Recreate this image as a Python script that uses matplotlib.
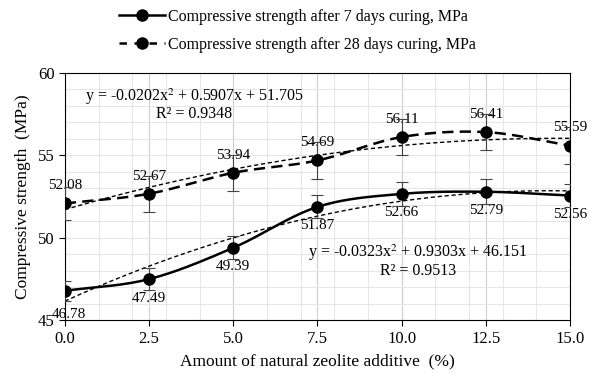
import numpy as np
import matplotlib.pyplot as plt
from matplotlib.lines import Line2D

plt.rcParams['font.family'] = ['Liberation Serif', 'DejaVu Serif']
plt.rcParams['mathtext.fontset'] = 'stix'

zeolita = [0.0, 2.5, 5.0, 7.5, 10.0, 12.5, 15.0]
r7 = [46.78, 47.49, 49.39, 51.87, 52.66, 52.79, 52.56]
r28 = [52.08, 52.67, 53.94, 54.69, 56.11, 56.41, 55.59]
err7 = [0.6, 0.65, 0.7, 0.7, 0.75, 0.75, 0.7]
err28 = [1.0, 1.1, 1.1, 1.1, 1.1, 1.1, 1.1]
etiquetas_x = ['0.0', '2.5', '5.0', '7.5', '10.0', '12.5', '15.0']


def suavizar(x, y, n=30):
    """Curva suavizada tipo Catmull-Rom (como la linea suavizada de Excel)."""
    x = np.asarray(x, float)
    y = np.asarray(y, float)
    px = np.concatenate([[2*x[0]-x[1]], x, [2*x[-1]-x[-2]]])
    py = np.concatenate([[2*y[0]-y[1]], y, [2*y[-1]-y[-2]]])
    xs, ys = [], []
    t = np.linspace(0, 1, n)
    for i in range(1, len(px)-2):
        for p, out in ((px, xs), (py, ys)):
            p0, p1, p2, p3 = p[i-1], p[i], p[i+1], p[i+2]
            out.extend(0.5*((2*p1) + (-p0+p2)*t + (2*p0-5*p1+4*p2-p3)*t**2
                            + (-p0+3*p1-3*p2+p3)*t**3))
    return np.array(xs), np.array(ys)


fig = plt.figure(figsize=(5.95, 3.74), dpi=100)
ax = fig.add_axes([0.109, 0.144, 0.849, 0.661])

# rejilla
for v in np.arange(0, 15.1, 1.0):
    ax.axvline(v, color='#e6e6e6', lw=0.8, zorder=0)
for v in np.arange(2.5, 15, 2.5):
    ax.axvline(v, color='#cfcfcf', lw=0.8, zorder=0)
for v in np.arange(45, 60.1, 1.0):
    ax.axhline(v, color='#e6e6e6', lw=0.8, zorder=0)

# tendencias polinomicas
xx = np.linspace(0, 15, 200)
for datos in (r7, r28):
    c = np.polyfit(zeolita, datos, 2)
    ax.plot(xx, np.polyval(c, xx), color='black', lw=1.0,
            linestyle=(0, (3, 2)), zorder=2)

sx, sy = suavizar(zeolita, r7)
ax.plot(sx, sy, color='black', lw=1.8, zorder=3)
sx, sy = suavizar(zeolita, r28)
ax.plot(sx, sy, color='black', lw=1.8, linestyle=(0, (4.5, 2.5)), zorder=3)

ax.errorbar(zeolita, r7, yerr=err7, fmt='o', color='black', ms=8,
            ecolor='#444444', elinewidth=0.8, capsize=4, capthick=0.8, zorder=4)
ax.errorbar(zeolita, r28, yerr=err28, fmt='o', color='black', ms=8,
            ecolor='#444444', elinewidth=0.8, capsize=4, capthick=0.8, zorder=4)

for x, y in zip(zeolita, r7):
    if x == 0:
        ax.annotate(f'{y:.2f}', (x, y), xytext=(3, -22), textcoords='offset points',
                    ha='center', va='bottom', fontsize=11)
    else:
        ax.annotate(f'{y:.2f}', (x, y), xytext=(0, -9), textcoords='offset points',
                    ha='center', va='top', fontsize=11)
for x, y in zip(zeolita, r28):
    ax.annotate(f'{y:.2f}', (x, y), xytext=(0, 8), textcoords='offset points',
                ha='center', va='bottom', fontsize=11)

ax.text(3.85, 59.2, 'y = -0.0202x$^2$ + 0.5907x + 51.705\nR² = 0.9348',
        ha='center', va='top', fontsize=11.5, linespacing=0.95)
ax.text(10.5, 49.7, 'y = -0.0323x$^2$ + 0.9303x + 46.151\nR² = 0.9513',
        ha='center', va='top', fontsize=11.5, linespacing=0.95)

ax.set_xlim(0, 15)
ax.set_ylim(45, 60)
ax.set_xticks(zeolita)
ax.set_xticklabels(etiquetas_x)
ax.set_yticks([45, 50, 55, 60])
ax.tick_params(labelsize=12, length=4, width=0.8, direction='out')
for s in ax.spines.values():
    s.set_linewidth(0.8)
ax.set_xlabel('Amount of natural zeolite additive  (%)', fontsize=12.5, labelpad=5)
ax.set_ylabel('Compressive strength  (MPa)', fontsize=12.5, labelpad=5)

manejadores = [
    Line2D([], [], color='black', lw=1.8, marker='o', ms=8),
    Line2D([], [], color='black', lw=1.8, linestyle=(0, (3, 3)), marker='o', ms=8),
]
fig.legend(manejadores,
           ['Compressive strength after 7 days curing, MPa',
            'Compressive strength after 28 days curing, MPa'],
           loc='upper center', bbox_to_anchor=(0.5, 1.015), frameon=False,
           fontsize=11.5, handlelength=2.9, handletextpad=0.2, labelspacing=0.75)

fig.savefig('out.png', dpi=100)
